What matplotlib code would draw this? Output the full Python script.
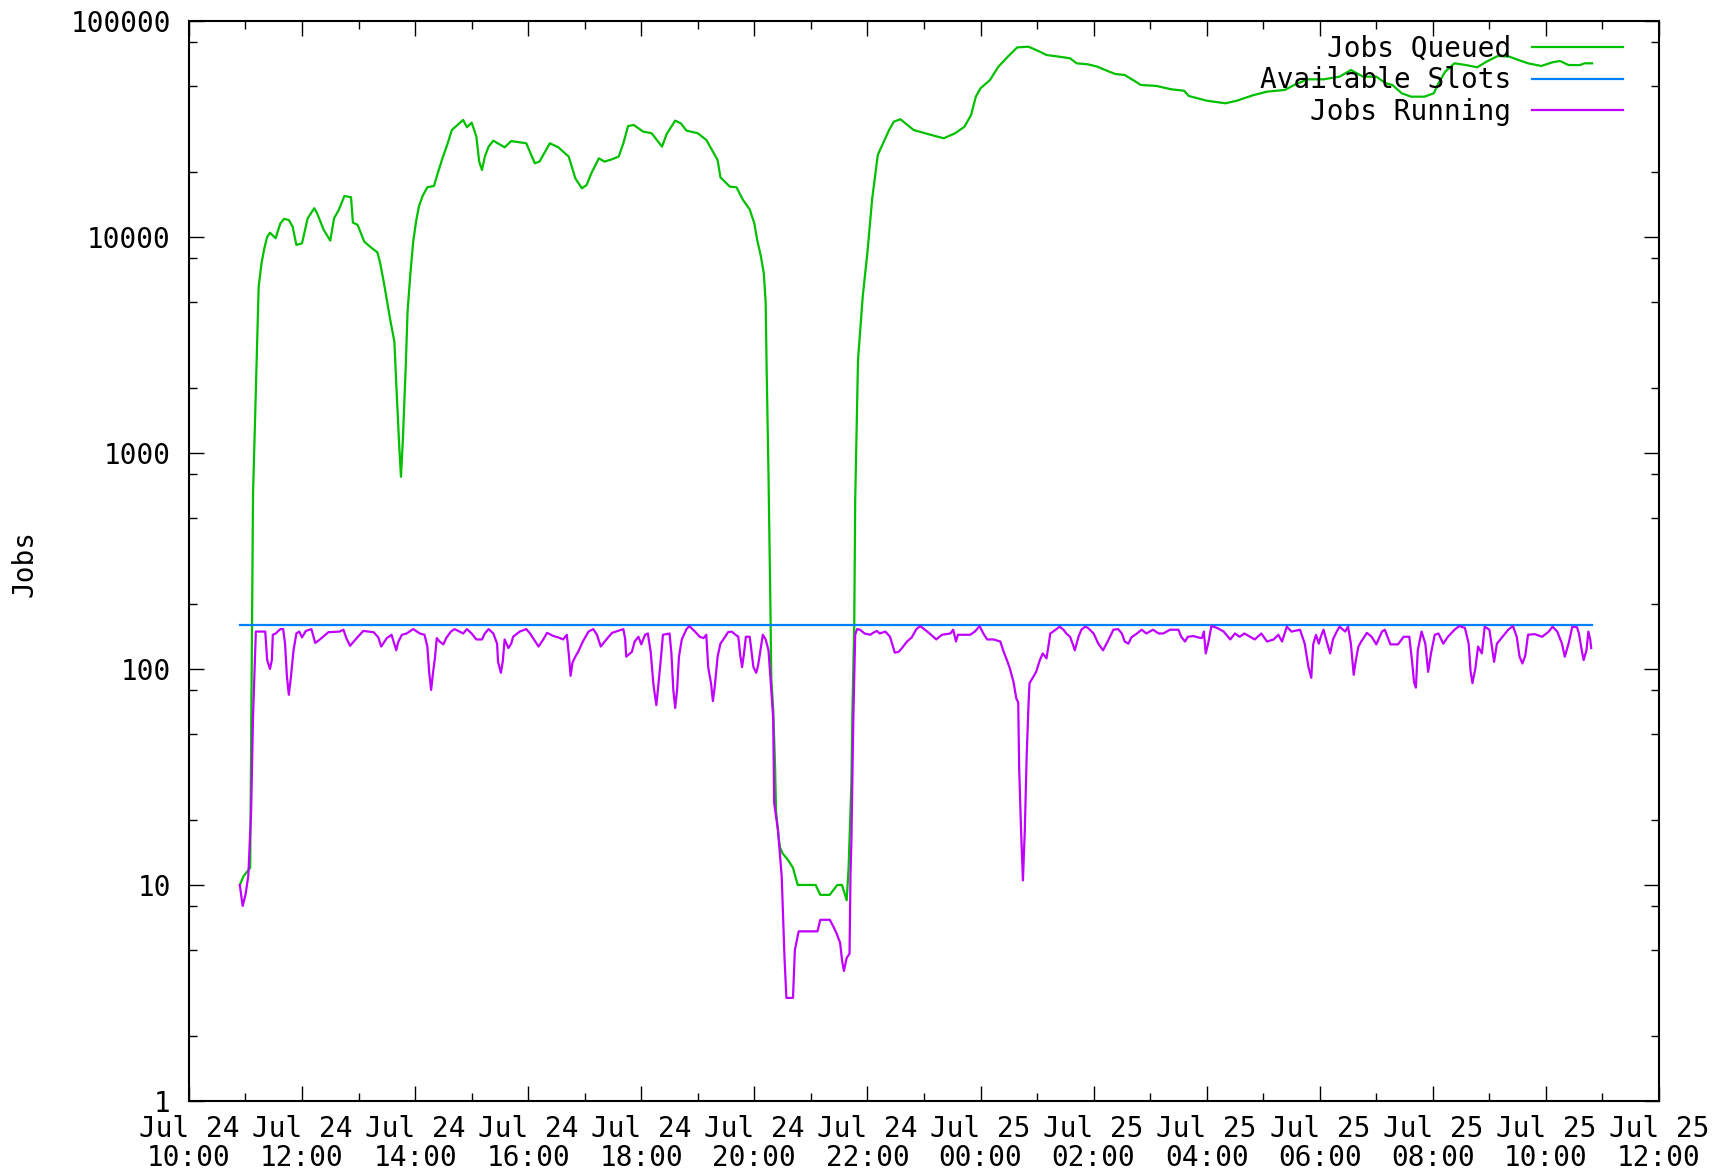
import matplotlib
matplotlib.use('Agg')
import matplotlib.pyplot as plt
import matplotlib.dates as mdates
from matplotlib import ticker
import pandas as pd

plt.rcParams['font.family'] = ['DejaVu Sans Mono']
plt.rcParams['font.size'] = 20

# all times are minutes after 24 Jul 10:00
start = pd.Timestamp('2010-07-24 10:00')

queued_min = [54, 58, 65, 68, 72, 74, 77, 80, 83, 86, 92, 97, 101, 106, 110, 114, 120, 126, 133, 136,
              143, 150, 154, 159, 165, 172, 174, 179, 186, 193, 200, 203, 207, 210, 214, 218, 220, 223,
              225, 227, 230, 232, 235, 238, 241, 244, 248, 253, 260, 264, 269, 274, 279, 285, 291, 295,
              300, 305, 308, 311, 314, 318, 323, 335, 342, 358, 367, 372, 383, 392, 403, 410, 417, 422,
              427, 435, 441, 449, 456, 461, 466, 472, 482, 491, 502, 507, 516, 522, 528, 540, 549, 556,
              561, 564, 574, 581, 588, 595, 600, 603, 607, 610, 612, 613, 615, 617, 618, 620, 622, 623,
              625, 627, 630, 636, 641, 646, 665, 670, 680, 688, 693, 698, 700, 703, 704, 706, 707, 710,
              715, 720, 725, 731, 738, 743, 748, 755, 769, 784, 801, 813, 823, 830, 835, 840, 850, 859,
              869, 879, 891, 903, 910, 923, 935, 942, 954, 964, 974, 983, 993, 1003, 1010, 1027, 1042,
              1056, 1061, 1080, 1100, 1112, 1129, 1144, 1163, 1173, 1187, 1204, 1221, 1233, 1246, 1260,
              1270, 1277, 1287, 1297, 1311, 1321, 1326, 1333, 1343, 1355, 1367, 1377, 1389, 1401, 1411,
              1421, 1435, 1447, 1455, 1464, 1476, 1481, 1489]
queued = [10, 11, 12, 640, 2840, 5890, 7550, 8860, 10000, 10470, 9860, 11560, 12130, 11990, 11170, 9190,
          9350, 12210, 13590, 12880, 10790, 9620, 12210, 13340, 15480, 15280, 11660, 11380, 9520, 8960,
          8490, 7550, 6100, 5110, 4050, 3280, 2100, 1110, 776, 1150, 2470, 4510, 6790, 9520, 11790,
          13830, 15500, 16990, 17220, 19710, 23130, 26650, 31290, 33010, 34820, 32210, 33840, 29160,
          22340, 20430, 23560, 26190, 27930, 26010, 27800, 27160, 21950, 22340, 27160, 26010, 23560,
          18700, 16800, 17400, 19710, 23130, 22340, 22900, 23560, 27160, 32640, 33010, 30750, 30220,
          26190, 30000, 34560, 33580, 31080, 30220, 28140, 24840, 22720, 18890, 17100, 16990, 14830,
          13430, 11560, 9690, 8110, 6790, 5000, 2500, 800, 200, 90, 65, 35, 22, 18, 15, 14, 13, 12, 10,
          10, 9, 9, 10, 10, 8.5, 12, 30, 62, 160, 600, 2700, 5300, 8500, 15000, 24000, 28000, 31290,
          34200, 35080, 31290, 29980, 28640, 30220, 32420, 36720, 44640, 48800, 53300, 61460, 68400,
          75500, 76000, 72100, 69600, 68400, 67200, 63700, 63000, 61460, 58900, 56840, 56240, 52930,
          50580, 50020, 48310, 47550, 44960, 42760, 41590, 42760, 45290, 47080, 47960, 50580, 53700,
          53700, 55240, 59300, 55240, 55240, 51500, 50580, 46270, 44640, 44640, 46270, 51500, 58210,
          63700, 62520, 61050, 64860, 68900, 68400, 65950, 63700, 61900, 64400, 65300, 62520, 62520,
          63700, 63700]

slots_min = [54, 1489]
slots = [160, 160]

running_min = [54, 57, 60, 63, 66, 68, 71, 81, 83, 86, 88, 89, 92, 97, 100, 102, 104, 106, 108, 111,
               114, 117, 120, 124, 130, 134, 139, 148, 160, 164, 167, 171, 178, 185, 196, 201, 204, 210,
               215, 220, 222, 226, 231, 238, 245, 250, 253, 255, 257, 259, 261, 263, 266, 270, 273, 278,
               282, 291, 295, 300, 305, 311, 314, 318, 323, 327, 328, 331, 333, 335, 339, 342, 344, 351,
               358, 362, 371, 376, 380, 387, 392, 397, 401, 403, 405, 407, 410, 413, 418, 424, 429, 433,
               437, 443, 449, 461, 463, 464, 470, 473, 477, 480, 484, 487, 490, 493, 496, 498, 501, 503,
               510, 512, 514, 516, 518, 520, 523, 528, 531, 537, 542, 546, 549, 551, 554, 556, 558, 561,
               564, 569, 572, 576, 580, 583, 585, 587, 589, 591, 595, 596, 599, 602, 604, 607, 609, 612,
               615, 617, 620, 621, 625, 629, 632, 634, 641, 643, 647, 667, 670, 680, 684, 687, 691, 693,
               695, 698, 701, 702, 703, 705, 707, 709, 712, 717, 723, 726, 730, 733, 739, 744, 749, 753,
               756, 762, 767, 772, 776, 781, 786, 793, 799, 808, 811, 814, 816, 822, 829, 834, 839, 843,
               847, 854, 861, 864, 868, 871, 875, 878, 880, 881, 883, 885, 887, 889, 891, 892, 896, 899,
               903, 906, 910, 912, 914, 917, 924, 928, 931, 935, 938, 940, 944, 947, 951, 954, 960, 965,
               970, 976, 981, 986, 990, 993, 997, 1000, 1006, 1011, 1016, 1023, 1029, 1034, 1041, 1050,
               1053, 1057, 1060, 1066, 1071, 1075, 1077, 1079, 1082, 1085, 1091, 1098, 1105, 1110, 1115,
               1120, 1126, 1131, 1138, 1144, 1151, 1156, 1160, 1165, 1170, 1179, 1184, 1188, 1191, 1193,
               1196, 1199, 1201, 1204, 1208, 1211, 1214, 1218, 1221, 1227, 1230, 1233, 1236, 1238, 1241,
               1244, 1250, 1255, 1260, 1266, 1269, 1275, 1283, 1289, 1295, 1298, 1300, 1302, 1304, 1308,
               1312, 1315, 1318, 1322, 1326, 1331, 1336, 1343, 1348, 1354, 1358, 1360, 1362, 1365, 1368,
               1372, 1375, 1380, 1385, 1388, 1394, 1400, 1405, 1409, 1412, 1415, 1418, 1421, 1428, 1436,
               1443, 1447, 1452, 1457, 1460, 1464, 1468, 1473, 1475, 1478, 1480, 1483, 1485, 1487, 1488]
running = [10, 8, 9, 11, 22, 60, 149, 149, 110, 100, 110, 144, 146, 153, 153, 131, 92, 76, 90, 122,
           146, 149, 140, 150, 153, 132, 137, 148, 149, 152, 139, 128, 139, 150, 148, 140, 127, 139,
           144, 122, 133, 144, 146, 153, 146, 144, 127, 96, 80, 96, 112, 139, 134, 130, 139, 149,
           153, 146, 153, 146, 137, 137, 146, 153, 146, 131, 108, 96, 108, 137, 125, 131, 141, 149,
           153, 146, 127, 137, 147, 142, 140, 137, 144, 118, 93, 107, 114, 120, 134, 149, 153, 144,
           127, 137, 147, 153, 137, 114, 120, 134, 141, 130, 144, 146, 120, 84, 68, 83, 114, 144,
           146, 118, 80, 66, 80, 114, 137, 153, 158, 149, 141, 139, 144, 102, 86, 71, 83, 114,
           131, 141, 148, 149, 144, 141, 116, 102, 118, 141, 141, 131, 102, 96, 104, 127, 144, 137,
           122, 92, 59, 24, 18, 11, 4.6, 3, 3, 5, 6.1, 6.1, 6.9, 6.9, 6.4, 6, 5.4, 4.5,
           4, 4.6, 4.8, 11, 16, 58, 144, 153, 152, 146, 144, 147, 150, 146, 149, 141, 119, 120,
           124, 134, 140, 153, 158, 152, 146, 137, 144, 146, 152, 134, 144, 144, 144, 149, 158, 146,
           137, 137, 134, 122, 110, 101, 87, 73, 70, 35, 18, 10.5, 18, 40, 70, 86, 92, 97,
           110, 118, 112, 127, 146, 149, 157, 152, 146, 141, 130, 122, 141, 152, 157, 155, 146, 131,
           122, 137, 152, 153, 146, 134, 131, 140, 146, 152, 146, 152, 146, 146, 152, 152,
           141, 134, 141, 142, 140, 139, 149, 118, 134, 158, 155, 149, 137, 146, 141,
           146, 141, 137, 146, 134, 137, 144, 134, 157, 149, 152, 131, 102, 91, 130,
           144, 131, 141, 152, 131, 118, 137, 149, 157, 149, 157, 131, 94, 108, 127,
           134, 147, 141, 130, 149, 152, 130, 130, 141, 141, 108, 87, 82, 122, 149,
           131, 97, 118, 144, 146, 131, 141, 152, 158, 155, 131, 98, 86, 100, 127,
           118, 157, 152, 108, 131, 141, 152, 158, 141, 114, 106, 115, 144, 145, 141,
           149, 157, 149, 131, 114, 131, 157, 156, 146, 122, 110, 122, 149, 137, 125]

assert len(queued_min) == len(queued)
assert len(running_min) == len(running)


def to_time(mins):
    return (start + pd.to_timedelta(mins, unit='min')).to_numpy()


fig = plt.figure(figsize=(17.16, 11.73), dpi=100)
ax = fig.add_axes([0.1101, 0.0614, 0.8567, 0.9207])

ax.plot(to_time(queued_min), queued, color='#00c000', lw=1.6, label='Jobs Queued')
ax.plot(to_time(slots_min), slots, color='#0080ff', lw=1.6, label='Available Slots')
ax.plot(to_time(running_min), running, color='#c000ff', lw=1.6, label='Jobs Running')

ax.set_yscale('log')
ax.set_ylim(1, 1e5)
ax.set_xlim(start, start + pd.Timedelta(hours=26))

ax.xaxis.set_major_locator(mdates.HourLocator(byhour=range(0, 24, 2)))
ax.xaxis.set_minor_locator(mdates.HourLocator())
ax.xaxis.set_major_formatter(mdates.DateFormatter('%b %d\n%H:%M'))
ax.yaxis.set_major_locator(ticker.LogLocator(base=10, numticks=10))
ax.yaxis.set_minor_locator(ticker.LogLocator(base=10, subs=[2, 5, 8], numticks=10))
ax.yaxis.set_major_formatter(ticker.FuncFormatter(lambda v, p: '%d' % round(v)))
ax.yaxis.set_minor_formatter(ticker.NullFormatter())

ax.tick_params(which='both', direction='in', top=True, right=True, width=1.0, colors='black')
ax.tick_params(which='major', length=11)
ax.tick_params(which='minor', length=5.5)
ax.tick_params(axis='x', pad=10)
ax.tick_params(axis='y', pad=13)
for s in ax.spines.values():
    s.set_linewidth(1.5)

ax.legend(loc='upper right', bbox_to_anchor=(0.9755, 0.987), borderaxespad=0, borderpad=0,
          frameon=False, markerfirst=False, handlelength=3.27, handletextpad=0.75, labelspacing=0.12)

fig.text(24 / 1716, 1 - 563.6 / 1173, 'Jobs', rotation=90, ha='center', va='center')

# slightly tighter two-line date labels so they stay inside the canvas
fig.canvas.draw()
for lbl in ax.get_xticklabels():
    lbl.set_linespacing(1.05)

fig.savefig('out.png', dpi=100)
